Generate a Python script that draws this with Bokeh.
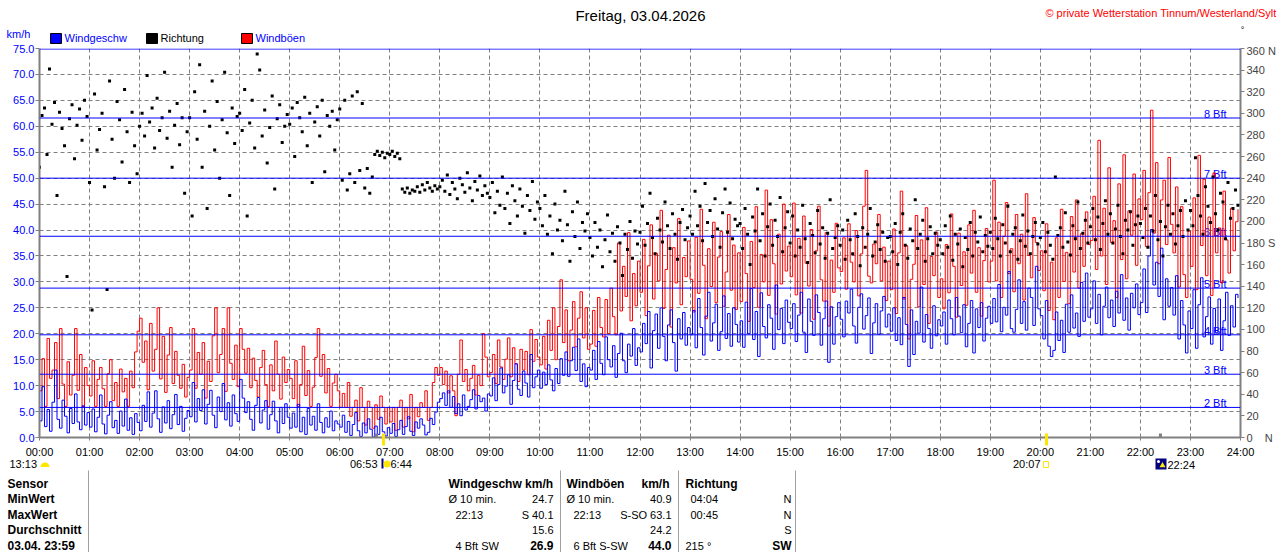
from bokeh.plotting import figure
from bokeh.models import Range1d, LinearAxis, FixedTicker, PrintfTickFormatter, BoxAnnotation, Span
from bokeh.core.properties import value
from bokeh.embed import file_html
from bokeh.resources import INLINE

# wind data, one value every 3 minutes (20 per hour)
wind_speed = [
    [3.2, 9.8, 2.1, 5.4, 1.2, 6.8, 13.0, 3.5, 1.8, 7.2, 4.1, 0.9, 5.6, 2.7, 8.4, 3.0, 1.5, 6.1, 2.4, 4.8],
    [2.0, 5.5, 1.1, 3.9, 8.2, 2.6, 0.7, 4.3, 6.9, 1.9, 3.3, 0.8, 5.1, 2.2, 7.4, 1.4, 3.8, 0.6, 4.6, 2.9],
    [1.3, 6.2, 3.1, 8.8, 2.0, 4.7, 9.0, 3.6, 1.0, 5.9, 2.8, 7.1, 1.7, 4.4, 8.3, 2.5, 6.0, 1.2, 3.7, 5.2],
    [4.0, 10.6, 3.0, 7.5, 5.2, 9.2, 2.6, 6.4, 9.1, 4.3, 1.9, 7.8, 5.0, 10.4, 3.4, 6.7, 2.2, 8.2, 4.6, 3.1],
    [11.2, 7.6, 4.8, 6.9, 3.5, 1.4, 6.2, 7.7, 2.8, 5.3, 7.1, 1.6, 4.4, 7.0, 3.2, 0.9, 5.8, 2.7, 6.5, 3.9],
    [1.8, 4.7, 2.0, 6.4, 1.1, 3.9, 0.6, 5.6, 2.4, 4.1, 1.4, 6.5, 2.9, 0.9, 3.8, 2.0, 5.1, 1.3, 3.2, 2.6],
    [2.0, 4.3, 1.0, 3.1, 0.4, 2.5, 4.8, 1.3, 0.2, 2.8, 0.9, 3.6, 1.6, 0.1, 2.2, 0.6, 3.9, 1.1, 0.3, 1.9],
    [0.8, 2.7, 0.2, 1.5, 3.3, 0.6, 2.1, 4.0, 1.2, 0.4, 3.0, 1.8, 3.6, 2.4, 0.5, 1.0, 3.7, 2.5, 4.9, 6.8],
    [7.5, 8.6, 6.2, 9.0, 5.8, 7.9, 4.6, 6.5, 4.2, 8.2, 5.3, 6.0, 7.3, 9.2, 5.5, 8.1, 6.9, 7.6, 5.1, 8.4],
    [8.0, 11.5, 7.1, 10.2, 13.4, 8.6, 9.9, 12.1, 6.4, 11.0, 14.2, 9.3, 8.1, 12.8, 10.5, 7.8, 16.0, 9.6, 11.7, 13.0],
    [9.5, 12.6, 10.2, 14.0, 11.1, 9.0, 13.3, 10.4, 15.2, 12.0, 16.5, 11.8, 14.8, 17.4, 12.9, 19.0, 10.8, 14.2, 9.8, 13.5],
    [13.0, 16.8, 11.2, 18.5, 14.3, 12.1, 19.4, 15.0, 13.6, 17.7, 11.6, 16.2, 20.1, 14.8, 12.5, 18.0, 15.7, 21.0, 13.9, 17.3],
    [16.5, 22.0, 18.1, 24.3, 13.4, 20.6, 23.8, 17.2, 25.0, 19.5, 14.8, 21.7, 24.6, 18.3, 12.8, 22.9, 19.0, 24.1, 17.8, 21.2],
    [19.8, 24.5, 17.3, 26.8, 21.2, 15.9, 23.4, 28.0, 18.6, 22.1, 25.7, 16.8, 20.4, 27.3, 19.1, 23.9, 17.6, 25.0, 21.8, 18.4],
    [22.5, 17.4, 26.1, 20.0, 28.7, 18.9, 24.3, 15.6, 27.9, 21.4, 19.2, 25.6, 23.0, 17.0, 29.4, 20.8, 24.9, 18.1, 26.5, 22.2],
    [21.0, 25.8, 18.5, 23.6, 28.0, 20.3, 16.4, 26.7, 22.4, 19.7, 27.5, 24.1, 17.8, 22.9, 26.3, 14.5, 25.2, 18.0, 23.3, 26.0],
    [22.8, 19.4, 26.3, 24.0, 28.6, 21.5, 18.2, 25.1, 27.7, 20.9, 23.5, 26.9, 16.2, 22.1, 25.8, 19.9, 24.4, 27.2, 21.3, 23.8],
    [20.5, 25.0, 18.7, 23.1, 17.9, 27.0, 21.8, 13.7, 24.6, 16.0, 22.4, 20.1, 29.0, 18.4, 23.7, 21.0, 17.2, 25.4, 19.6, 22.7],
    [21.5, 24.2, 18.0, 26.5, 22.9, 19.8, 27.0, 23.4, 20.2, 25.6, 17.5, 22.0, 26.4, 16.3, 24.8, 21.2, 26.0, 18.6, 23.0, 25.3],
    [22.0, 26.8, 22.3, 29.5, 20.4, 25.1, 23.6, 32.0, 21.0, 20.3, 24.7, 30.4, 22.0, 26.2, 20.7, 28.8, 27.0, 21.6, 33.0, 24.8],
    [23.5, 19.0, 26.4, 17.6, 15.6, 16.8, 24.2, 18.7, 22.6, 16.4, 25.7, 20.3, 27.5, 21.1, 24.0, 19.5, 29.9, 22.4, 31.7, 23.2],
    [24.8, 30.2, 22.0, 27.6, 19.8, 25.3, 29.0, 23.1, 26.5, 21.4, 28.2, 24.0, 31.4, 22.6, 26.9, 20.7, 27.8, 25.0, 29.6, 23.7],
    [26.0, 32.5, 24.1, 35.0, 40.1, 29.4, 33.8, 27.2, 36.5, 22.7, 30.6, 25.3, 28.9, 23.6, 31.2, 19.0, 26.4, 21.7, 16.3, 24.4],
    [21.0, 28.5, 17.2, 25.6, 30.8, 19.4, 23.3, 27.1, 18.0, 24.9, 20.2, 26.7, 16.8, 22.5, 28.0, 19.7, 25.4, 21.3, 27.6, 26.9],
]

wind_gust = [
    [9.0, 15.2, 6.0, 19.1, 11.4, 13.0, 18.3, 7.5, 21.0, 10.3, 6.0, 14.6, 8.2, 12.0, 21.0, 9.1, 16.0, 6.0, 13.5, 10.0],
    [8.0, 14.8, 6.0, 11.2, 13.5, 9.4, 6.0, 12.3, 15.0, 7.1, 10.6, 6.0, 13.2, 8.8, 11.4, 6.0, 12.8, 9.6, 16.5, 20.5],
    [23.0, 14.5, 18.6, 9.2, 22.0, 12.8, 17.0, 25.0, 11.3, 19.5, 8.7, 15.9, 21.2, 10.4, 16.6, 12.0, 9.5, 14.1, 7.8, 11.6],
    [13.0, 21.0, 9.5, 16.4, 12.2, 18.3, 7.6, 14.7, 10.8, 19.6, 25.0, 12.5, 16.0, 21.0, 8.9, 25.0, 14.3, 11.2, 17.8, 9.8],
    [21.0, 17.0, 12.4, 17.2, 9.6, 15.3, 11.0, 7.8, 13.5, 16.8, 10.2, 6.0, 14.0, 9.0, 18.6, 12.2, 7.4, 15.5, 10.6, 13.1],
    [11.4, 7.5, 14.8, 6.0, 10.2, 17.6, 8.1, 12.9, 6.0, 9.7, 15.4, 21.0, 11.8, 16.0, 8.6, 13.3, 6.0, 10.5, 12.2, 9.0],
    [5.8, 8.5, 5.8, 10.6, 4.1, 5.8, 7.2, 3.2, 9.6, 5.8, 2.4, 7.0, 5.8, 1.8, 6.3, 3.5, 8.0, 5.8, 2.6, 5.8],
    [3.0, 5.8, 1.4, 5.8, 7.2, 2.0, 5.8, 3.6, 8.3, 1.1, 5.8, 4.0, 6.7, 5.8, 9.0, 3.3, 5.8, 10.6, 13.5, 12.0],
    [13.5, 10.2, 12.8, 8.6, 11.9, 9.0, 4.2, 12.2, 18.8, 10.8, 13.1, 9.0, 11.4, 13.9, 8.2, 12.0, 10.0, 20.0, 15.5, 11.7],
    [12.5, 16.0, 10.4, 18.8, 13.6, 11.2, 15.1, 19.2, 11.7, 17.3, 14.2, 10.8, 17.0, 13.0, 16.6, 12.1, 20.8, 14.7, 18.9, 15.5],
    [14.0, 19.5, 13.2, 22.6, 16.8, 25.0, 15.0, 21.4, 30.4, 18.3, 24.6, 14.8, 20.7, 26.2, 17.5, 23.0, 28.1, 19.2, 25.0, 17.0],
    [18.0, 24.5, 17.6, 27.0, 21.2, 19.4, 26.6, 20.0, 28.8, 23.3, 19.8, 37.5, 24.4, 33.0, 27.2, 39.5, 22.5, 31.6, 25.4, 34.0],
    [28.0, 38.2, 23.5, 33.1, 41.0, 26.7, 35.5, 30.2, 43.8, 24.9, 32.4, 39.0, 21.3, 36.6, 29.8, 42.2, 25.6, 34.7, 31.0, 37.9],
    [30.5, 24.2, 38.6, 27.8, 44.0, 33.2, 22.9, 36.4, 29.1, 41.5, 26.0, 34.8, 39.7, 25.3, 31.9, 43.0, 28.4, 37.1, 24.7, 35.6],
    [26.2, 40.5, 31.6, 22.4, 37.8, 28.9, 44.5, 25.1, 35.3, 30.0, 47.7, 27.4, 42.0, 33.5, 23.8, 39.2, 29.6, 45.0, 32.1, 36.9],
    [31.0, 45.2, 27.5, 38.4, 24.0, 42.7, 33.6, 29.2, 40.1, 22.8, 36.0, 44.6, 30.4, 26.3, 39.5, 21.5, 34.2, 28.0, 41.3, 32.7],
    [32.0, 38.5, 28.6, 41.2, 33.8, 30.0, 39.9, 27.3, 35.4, 44.6, 51.5, 31.1, 29.8, 37.3, 33.5, 43.0, 30.2, 36.7, 26.4, 34.0],
    [28.5, 40.2, 23.9, 35.6, 47.5, 26.7, 37.0, 19.0, 30.5, 33.4, 42.8, 25.2, 38.1, 29.5, 44.3, 22.0, 34.9, 31.2, 39.6, 27.0],
    [30.6, 24.8, 37.2, 27.9, 43.1, 33.0, 23.2, 39.4, 29.3, 35.8, 25.5, 41.0, 31.7, 43.8, 28.0, 36.6, 23.4, 34.1, 40.3, 30.0],
    [34.0, 49.6, 30.2, 41.5, 27.0, 38.8, 45.3, 31.6, 36.4, 28.1, 43.0, 33.5, 39.2, 26.5, 47.0, 35.1, 30.8, 42.4, 37.6, 32.2],
    [36.0, 28.3, 41.2, 24.5, 33.8, 22.7, 38.5, 27.0, 44.0, 30.1, 35.7, 25.8, 42.6, 31.9, 45.8, 28.8, 39.3, 33.0, 43.5, 37.2],
    [38.0, 46.5, 32.4, 57.3, 35.0, 44.2, 29.5, 52.0, 37.6, 41.8, 27.0, 48.9, 34.3, 54.5, 30.6, 43.7, 39.0, 50.8, 33.2, 46.0],
    [42.0, 51.5, 36.8, 47.2, 63.1, 39.4, 53.0, 33.5, 45.8, 49.6, 37.2, 54.0, 41.1, 35.6, 48.3, 29.0, 44.5, 31.4, 27.0, 39.8],
    [33.0, 46.2, 28.5, 54.4, 37.0, 49.8, 31.2, 42.5, 27.4, 51.0, 35.6, 40.4, 29.8, 47.5, 38.1, 31.7, 44.2, 36.0, 41.6, 44.0],
]

wind_dir = [
    [250, 298, 305, 262, 341, 290, 310, 224, 301, 286, 270, 149, 295, 308, 258, 289, 304, 275, 312, 297],
    [236, 118, 318, 266, 285, 300, 232, 137, 330, 276, 240, 311, 294, 255, 322, 283, 236, 301, 270, 244],
    [288, 300, 279, 335, 292, 305, 268, 314, 284, 296, 338, 277, 302, 250, 289, 309, 271, 296, 226, 283],
    [296, 205, 320, 276, 345, 250, 302, 212, 288, 330, 266, 311, 240, 294, 338, 282, 224, 305, 272, 297],
    [300, 284, 322, 205, 291, 312, 268, 355, 340, 279, 303, 254, 287, 316, 230, 295, 308, 273, 288, 299],
    [290, 305, 260, 310, 296, 283, 315, 270, 300, 236, 292, 306, 279, 312, 246, 298, 288, 302, 266, 294],
    [304, 238, 312, 229, 244, 316, 236, 320, 247, 309, 231, 249, 226, 241, 262, 265, 261, 264, 259, 263],
    [262, 265, 260, 263, 258, 230, 227, 231, 226, 229, 228, 232, 227, 234, 229, 236, 231, 228, 233, 230],
    [232, 238, 228, 243, 225, 236, 230, 221, 240, 234, 227, 245, 231, 219, 237, 229, 242, 224, 233, 226],
    [222, 236, 208, 228, 215, 241, 212, 226, 198, 233, 219, 205, 230, 214, 189, 224, 210, 237, 202, 218],
    [212, 196, 224, 188, 205, 170, 216, 192, 201, 182, 228, 197, 163, 209, 186, 218, 175, 199, 191, 207],
    [185, 168, 199, 176, 192, 158, 183, 206, 172, 189, 163, 195, 180, 150, 188, 174, 200, 166, 191, 179],
    [190, 214, 178, 198, 226, 185, 170, 203, 192, 181, 218, 196, 175, 207, 188, 165, 199, 211, 183, 194],
    [205, 188, 228, 196, 214, 182, 235, 199, 210, 186, 221, 193, 176, 208, 230, 190, 217, 184, 202, 196],
    [198, 175, 212, 188, 160, 204, 191, 230, 182, 207, 168, 195, 216, 178, 201, 186, 222, 172, 194, 209],
    [180, 205, 168, 192, 176, 215, 184, 162, 198, 187, 171, 210, 179, 194, 166, 189, 220, 175, 185, 196],
    [178, 192, 165, 201, 183, 170, 207, 186, 159, 194, 176, 188, 212, 168, 181, 197, 174, 190, 163, 185],
    [186, 172, 198, 160, 190, 207, 178, 166, 193, 182, 220, 175, 188, 201, 163, 184, 195, 170, 189, 178],
    [183, 170, 196, 176, 205, 164, 188, 179, 193, 158, 185, 174, 199, 168, 190, 181, 204, 172, 187, 177],
    [190, 175, 203, 184, 168, 197, 180, 214, 172, 188, 194, 165, 182, 206, 177, 191, 170, 186, 199, 179],
    [185, 199, 172, 190, 178, 165, 241, 187, 194, 176, 208, 181, 169, 196, 184, 218, 175, 189, 201, 180],
    [195, 212, 183, 204, 174, 198, 219, 188, 207, 180, 193, 215, 186, 170, 201, 192, 209, 178, 197, 205],
    [198, 185, 212, 176, 205, 191, 224, 183, 200, 168, 195, 215, 188, 207, 179, 196, 210, 186, 219, 192],
    [210, 196, 259, 224, 205, 188, 232, 214, 199, 241, 207, 192, 226, 218, 184, 236, 203, 212, 229, 215],
]

hour_labels = ["%02d:00" % h for h in range(25)]
dir_labels = {0: "0\u00a0\u00a0\u00a0\u00a0N", 180: "180\u00a0S", 360: "360\u00a0N"}
bft_levels = [5.8, 12.2, 19.8, 28.8, 38.8, 50.0, 61.6, 74.9]
bft_names = ["2 Bft", "3 Bft", "4 Bft", "5 Bft", "6 Bft", "7 Bft", "8 Bft"]
sun_times = [6 + 53 / 60, 20 + 7 / 60]     # yellow marks
moon_times = [6 + 44 / 60, 22 + 24 / 60]   # grey marks

# stats table below the chart: (text, x, bold, align)
table_rows = [
    [("Sensor", 7, True, "left"), ("Windgeschw km/h", 448, True, "left"), ("Windböen", 566, True, "left"),
     ("km/h", 641, True, "left"), ("Richtung", 685, True, "left")],
    [("MinWert", 7, True, "left"), ("Ø 10 min.", 448, False, "left"), ("24.7", 553, False, "right"),
     ("Ø 10 min.", 566, False, "left"), ("40.9", 671, False, "right"), ("04:04", 690, False, "left"),
     ("N", 791, False, "right")],
    [("MaxWert", 7, True, "left"), ("22:13", 455, False, "left"), ("S 40.1", 553, False, "right"),
     ("22:13", 573, False, "left"), ("S-SO 63.1", 671, False, "right"), ("00:45", 690, False, "left"),
     ("N", 791, False, "right")],
    [("Durchschnitt", 7, True, "left"), ("15.6", 553, False, "right"), ("24.2", 671, False, "right"),
     ("S", 791, False, "right")],
    [("03.04.  23:59", 7, True, "left"), ("4 Bft SW", 455, False, "left"), ("26.9", 553, True, "right"),
     ("6 Bft S-SW", 573, False, "left"), ("44.0", 671, True, "right"), ("215 °", 685, False, "left"),
     ("SW", 791, True, "right")],
]

times = [h + k / 20 for h in range(24) for k in range(20)]
speed = [v for row in wind_speed for v in row]
gust = [v for row in wind_gust for v in row]
direction = [v for row in wind_dir for v in row]

FONT = "Liberation Sans"
BLUE = "#0000FF"
GRAY = "#808080"
YELLOW = "#FFE600"


def sheet(height, top, **kw):
    # plain canvas in page pixels, used for the header and the table
    f = figure(width=1280, height=height, x_range=Range1d(0, 1280), y_range=Range1d(top + height, top),
               x_axis_type=None, y_axis_type=None, output_backend="svg", toolbar_location=None,
               title=None, min_border=0, **kw)
    f.outline_line_color = None
    return f


def put(f, text, x, y, color="black", size="11px", bold=False, align="left"):
    f.text(x=[x], y=[y], text=[text], text_color=color, text_font=value(FONT), text_font_size=size,
           text_font_style="bold" if bold else "normal", text_align=align, text_baseline="middle")


# ---- header
head = sheet(44, 0)
put(head, "Freitag, 03.04.2026", 640, 15, size="15px", align="center")
put(head, "© private Wetterstation Tinnum/Westerland/Sylt", 1276, 12, color="#FF0000", align="right")
put(head, "°", 1242, 29, size="9px", align="center")
put(head, "km/h", 6, 33, color=BLUE)
head.quad(left=[50, 146, 241], right=[61, 157, 252], top=[33, 33, 33], bottom=[43, 43, 43],
          fill_color=[BLUE, "black", "#FF0000"], line_color="black")
put(head, "Windgeschw", 64, 37, color=BLUE)
put(head, "Richtung", 160, 37)
put(head, "Windböen", 255, 37, color=BLUE)

# ---- chart
p = figure(width=1280, height=416, x_range=Range1d(0, 24), y_range=Range1d(0, 75),
           output_backend="svg", toolbar_location=None, title=None,
           min_border_left=39, min_border_right=40, min_border_top=4, min_border_bottom=22)
p.outline_line_color = None
p.extra_y_ranges = {"dir": Range1d(0, 360)}

xt = FixedTicker(ticks=list(range(25)), minor_ticks=sun_times)
p.xaxis.ticker = xt
p.xgrid.ticker = xt
p.xaxis.major_label_overrides = {h: hour_labels[h] for h in range(25)}
yt = FixedTicker(ticks=list(range(0, 76, 5)))
p.yaxis.ticker = yt
p.ygrid.ticker = yt
p.yaxis.formatter = PrintfTickFormatter(format="%.1f")

for ax in (p.xaxis, p.yaxis):
    ax.axis_line_color = GRAY
    ax.axis_line_width = 2
    ax.major_tick_line_color = GRAY
    ax.major_tick_in = 0
    ax.major_label_text_font = FONT
    ax.major_label_text_font_size = "11px"
p.yaxis.major_tick_out = 4
p.yaxis.minor_tick_line_color = None
p.yaxis.minor_tick_out = 0
p.yaxis.major_label_standoff = 1
p.yaxis.major_label_text_color = BLUE
p.xaxis.major_tick_out = 3
p.xaxis.minor_tick_line_color = YELLOW
p.xaxis.minor_tick_line_width = 3
p.xaxis.minor_tick_in = 4
p.xaxis.minor_tick_out = 8
p.xaxis.major_label_standoff = 0
p.xaxis.major_label_text_color = "black"

rax = LinearAxis(y_range_name="dir", ticker=FixedTicker(ticks=list(range(0, 361, 20))))
rax.major_label_overrides = dir_labels
rax.axis_line_color = GRAY
rax.axis_line_width = 2
rax.major_tick_line_color = GRAY
rax.major_tick_in = 0
rax.major_tick_out = 4
rax.minor_tick_line_color = None
rax.major_label_standoff = 2
rax.major_label_text_font = FONT
rax.major_label_text_font_size = "11px"
p.add_layout(rax, "right")

for g in (p.xgrid, p.ygrid):
    g.grid_line_color = GRAY
    g.grid_line_dash = "4 3"
    g.grid_line_width = 1

PX_H = 24 / 1201
PX_V = 75 / 390

# beaufort labels sit under the data
p.text(x=[24] * len(bft_names), y=[v + 4 * PX_V for v in bft_levels[:len(bft_names)]], text=bft_names,
       x_offset=-14, text_align="right", text_baseline="alphabetic", text_color=BLUE,
       text_font=value(FONT), text_font_size="11px")

p.step(times, gust, mode="after", line_color="#FF0000", line_width=1)
p.step(times, speed, mode="after", line_color=BLUE, line_width=1)
p.scatter(times, direction, y_range_name="dir", marker="square", size=3,
          fill_color="black", line_color=None)

for v in bft_levels:
    p.add_layout(Span(location=v, dimension="width", line_color=BLUE, line_width=1))
for t in moon_times:
    p.add_layout(BoxAnnotation(left=t - 1.5 * PX_H, right=t + 1.5 * PX_H, bottom=0, top=4 * PX_V,
                               fill_color=GRAY, fill_alpha=1, line_color=None))

# ---- sun row and stats table (pulled up a little so it tucks under the time labels)
foot = sheet(96, 456, styles={"margin-top": "-4px"})
foot.background_fill_color = None
foot.border_fill_color = None
put(foot, "13:13", 9, 463)
foot.wedge(x=[44.5], y=[466.5], radius=4.5, start_angle=0, end_angle=3.1416,
           fill_color=YELLOW, line_color=None)
put(foot, "06:53", 377, 463, align="right")
foot.quad(left=[381], right=[383], top=[458], bottom=[468], fill_color="#000080", line_color=None)
foot.scatter(x=[386.5], y=[463.5], marker="circle", size=7, fill_color=YELLOW, line_color=None)
put(foot, "6:44", 390, 463)
put(foot, "20:07", 1040, 463, align="right")
foot.quad(left=[1043], right=[1048], top=[461], bottom=[467], fill_color=None, line_color=YELLOW)
foot.quad(left=[1155], right=[1166], top=[458], bottom=[469], fill_color="#000080", line_color=None)
foot.scatter(x=[1158], y=[461], marker="circle", size=3, fill_color="white", line_color=None)
foot.scatter(x=[1162], y=[465], marker="triangle", size=6, fill_color=YELLOW, line_color=None)
put(foot, "22:24", 1167, 464)

foot.segment(x0=[88, 560, 678, 795], y0=[470] * 4, x1=[88, 560, 678, 795], y1=[552] * 4,
             line_color="#A0A0A0", line_width=1)
for i, row in enumerate(table_rows):
    for text, x, bold, align in row:
        put(foot, text, x, 483 + 15.5 * i, size="12px" if bold else "11px", bold=bold, align=align)

# three separate roots stacked on the page, so their frames are not aligned to each other
open("out.html", "w", encoding="utf-8").write(file_html([head, p, foot], INLINE))
